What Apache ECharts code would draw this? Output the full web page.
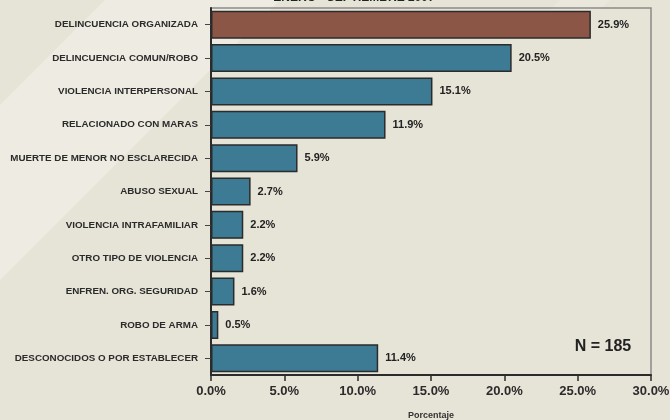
<!DOCTYPE html>
<html>
<head>
<meta charset="utf-8">
<script src="https://cdn.jsdelivr.net/npm/echarts@6/dist/echarts.min.js"></script>
<style>
  html, body { margin: 0; padding: 0; background: #e6e3d7; }
  #chart { width: 670px; height: 420px; }
</style>
</head>
<body>
<div id="chart"></div>
<script>
  // categorias, de arriba hacia abajo
  var categories = [
    'DELINCUENCIA ORGANIZADA',
    'DELINCUENCIA COMUN/ROBO',
    'VIOLENCIA INTERPERSONAL',
    'RELACIONADO CON MARAS',
    'MUERTE DE MENOR NO ESCLARECIDA',
    'ABUSO SEXUAL',
    'VIOLENCIA INTRAFAMILIAR',
    'OTRO TIPO DE VIOLENCIA',
    'ENFREN. ORG. SEGURIDAD',
    'ROBO DE ARMA',
    'DESCONOCIDOS O POR ESTABLECER'
  ]
  var porcentajes = [25.9, 20.5, 15.1, 11.9, 5.9, 2.7, 2.2, 2.2, 1.6, 0.5, 11.4]
  var subtitulo = 'ENERO - SEPTIEMBRE 2007'
  var nTotal = 'N = 185'

  var chart = echarts.init(document.getElementById('chart'))
  var font = '"Liberation Sans", Arial, sans-serif'

  chart.setOption({
    backgroundColor: '#e6e3d7',
    animation: false,
    textStyle: { fontFamily: font },
    graphic: [
      {
        // franja clara diagonal del fondo
        type: 'polygon',
        z: -10,
        shape: { points: [[0, 105], [105, 0], [280, 0], [0, 280]] },
        style: { fill: '#eeece2' }
      },
      {
        type: 'polygon',
        z: -10,
        shape: { points: [[560, 0], [610, 0], [600, 10], [550, 10]] },
        style: { fill: '#eae8dd' }
      },
      {
        // subtitulo, casi todo fuera del cuadro
        type: 'text',
        x: 354,
        y: -2,
        z: 10,
        style: {
          text: subtitulo,
          fontSize: 12,
          fontWeight: 'bold',
          fontFamily: font,
          fill: '#222',
          align: 'center',
          verticalAlign: 'middle'
        }
      },
      {
        type: 'text',
        x: 603,
        y: 347,
        z: 10,
        style: {
          text: nTotal,
          fontSize: 16,
          fontWeight: 'bold',
          fontFamily: font,
          fill: '#222',
          align: 'center',
          verticalAlign: 'middle'
        }
      }
    ],
    grid: {
      left: 211,
      right: 19,
      top: 8,
      bottom: 45,
      containLabel: false,
      outerBoundsMode: 'none',
      show: true,
      borderColor: '#8a8a8a',
      borderWidth: 1.5,
      backgroundColor: 'transparent'
    },
    xAxis: {
      type: 'value',
      min: 0,
      max: 30,
      interval: 5,
      name: 'Porcentaje',
      nameLocation: 'middle',
      nameGap: 36,
      nameTextStyle: { fontSize: 9, fontWeight: 'bold', color: '#333' },
      axisLine: { show: true, lineStyle: { color: '#2b2b2b', width: 2 } },
      axisTick: { show: true, length: 6, lineStyle: { color: '#2b2b2b', width: 1.5 } },
      splitLine: { show: false },
      axisLabel: {
        margin: 10,
        fontSize: 13,
        fontWeight: 'bold',
        color: '#2b2b2b',
        formatter: function (v) { return v.toFixed(1) + '%' }
      }
    },
    yAxis: {
      type: 'category',
      data: categories,
      inverse: true,
      axisLine: { show: true, lineStyle: { color: '#2b2b2b', width: 2 } },
      axisTick: { show: true, alignWithLabel: true, length: 6, lineStyle: { color: '#444', width: 1 } },
      axisLabel: {
        margin: 13,
        fontSize: 9.8,
        fontWeight: 'bold',
        color: '#2b2b2b'
      }
    },
    series: [
      {
        type: 'bar',
        data: porcentajes,
        barWidth: 28,
        itemStyle: {
          color: function (p) { return p.dataIndex === 0 ? '#8c5647' : '#3d7a93' },
          borderColor: '#2b2b2b',
          borderWidth: 1.5
        },
        label: {
          show: true,
          position: 'right',
          distance: 7,
          fontSize: 11,
          fontWeight: 'bold',
          color: '#222',
          formatter: function (p) { return p.value.toFixed(1) + '%' }
        }
      }
    ]
  })
</script>
</body>
</html>
